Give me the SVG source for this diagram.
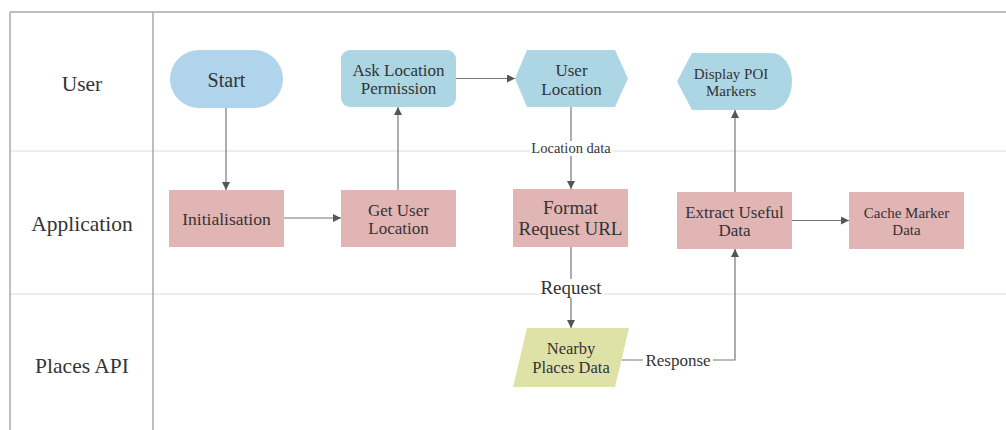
<svg xmlns="http://www.w3.org/2000/svg" width="1006" height="430" viewBox="0 0 1006 430">
  <defs>
    <marker id="arrow" viewBox="0 0 10 10" refX="10" refY="5" markerWidth="8" markerHeight="8" markerUnits="userSpaceOnUse" orient="auto">
      <path d="M0,0 L10,5 L0,10 Z" fill="#555"/>
    </marker>
  </defs>
  <style>
    .t { fill: #333; text-anchor: middle; }
    .lane { font-size: 21.5px; }
    .frame { stroke: #a8a8a8; stroke-width: 1.5; fill: none; }
    .sep { stroke: #dcdcdc; stroke-width: 1; fill: none; }
    .user { fill: #acd6e4; }
    .start { fill: #afd4eb; }
    .app { fill: #e2b5b5; }
    .api { fill: #dfe2a6; }
    .conn { stroke: #777; stroke-width: 1.2; fill: none; }
    .lbl-bg { fill: #fff; }
  </style>

  <rect x="0" y="0" width="1006" height="430" fill="#fff"/>

  <!-- swimlane frame -->
  <g id="lanes">
    <line class="sep" x1="10" y1="151" x2="1006" y2="151"/>
    <line class="sep" x1="10" y1="294" x2="1006" y2="294"/>
    <line class="frame" x1="10" y1="12" x2="1006" y2="12"/>
    <line class="frame" x1="10" y1="12" x2="10" y2="430"/>
    <line class="frame" x1="153" y1="12" x2="153" y2="430"/>
    <text class="t lane" font-family="Liberation Serif" x="82" y="90.5">User</text>
    <text class="t lane" font-family="Liberation Serif" x="82" y="231">Application</text>
    <text class="t lane" font-family="Liberation Serif" x="82" y="372.5">Places API</text>
  </g>

  <!-- connectors -->
  <g id="connectors">
    <line class="conn" x1="226" y1="108" x2="226" y2="190" marker-end="url(#arrow)"/>
    <line class="conn" x1="284" y1="218" x2="341" y2="218" marker-end="url(#arrow)"/>
    <line class="conn" x1="398" y1="190" x2="398" y2="107" marker-end="url(#arrow)"/>
    <line class="conn" x1="456" y1="78.5" x2="515" y2="78.5" marker-end="url(#arrow)"/>
    <line class="conn" x1="571" y1="107" x2="571" y2="189" marker-end="url(#arrow)"/>
    <line class="conn" x1="571" y1="247" x2="571" y2="328" marker-end="url(#arrow)"/>
    <polyline class="conn" points="621.5,360 735,360 735,249" marker-end="url(#arrow)"/>
    <line class="conn" x1="735" y1="192" x2="735" y2="110" marker-end="url(#arrow)"/>
    <line class="conn" x1="792" y1="220.5" x2="849" y2="220.5" marker-end="url(#arrow)"/>

    <rect class="lbl-bg" x="530" y="141" width="83" height="15"/>
    <text class="t" font-family="Liberation Serif" x="571" y="153" font-size="14.5">Location data</text>
    <rect class="lbl-bg" x="539" y="279" width="65" height="19"/>
    <text class="t" font-family="Liberation Serif" x="571" y="294" font-size="19">Request</text>
    <rect class="lbl-bg" x="643" y="350" width="70" height="19"/>
    <text class="t" font-family="Liberation Serif" x="678" y="366" font-size="17">Response</text>
  </g>

  <!-- User lane -->
  <g id="start">
    <rect class="start" x="170" y="50" width="113" height="58" rx="29" ry="29"/>
    <text class="t" font-family="Liberation Serif" x="226.5" y="87.3" font-size="20">Start</text>
  </g>
  <g id="ask-permission">
    <rect class="user" x="341" y="50" width="115" height="57" rx="9" ry="9"/>
    <text class="t" font-family="Liberation Serif" x="398.5" y="76" font-size="17">Ask Location</text>
    <text class="t" font-family="Liberation Serif" x="398.5" y="94.3" font-size="17">Permission</text>
  </g>
  <g id="user-location">
    <polygon class="user" points="515,78.5 527,50 615,50 628,78.5 615,107 527,107"/>
    <text class="t" font-family="Liberation Serif" x="571.5" y="76" font-size="17">User</text>
    <text class="t" font-family="Liberation Serif" x="571.5" y="95" font-size="17">Location</text>
  </g>
  <g id="display-poi">
    <path class="user" d="M677,81.5 L692,53 L772,53 A20,28.5 0 0 1 772,110 L692,110 Z"/>
    <text class="t" font-family="Liberation Serif" x="731" y="79" font-size="15">Display POI</text>
    <text class="t" font-family="Liberation Serif" x="731" y="96.3" font-size="15">Markers</text>
  </g>

  <!-- Application lane -->
  <g id="initialisation">
    <rect class="app" x="169" y="190" width="115" height="57"/>
    <text class="t" font-family="Liberation Serif" x="226.5" y="225.3" font-size="17.5">Initialisation</text>
  </g>
  <g id="get-user-location">
    <rect class="app" x="341" y="190" width="115" height="57"/>
    <text class="t" font-family="Liberation Serif" x="398.5" y="215.7" font-size="17">Get User</text>
    <text class="t" font-family="Liberation Serif" x="398.5" y="234" font-size="17">Location</text>
  </g>
  <g id="format-request">
    <rect class="app" x="513" y="189" width="115" height="58"/>
    <text class="t" font-family="Liberation Serif" x="570.5" y="214" font-size="19">Format</text>
    <text class="t" font-family="Liberation Serif" x="570.5" y="235" font-size="19">Request URL</text>
  </g>
  <g id="extract-data">
    <rect class="app" x="677" y="192" width="115" height="57"/>
    <text class="t" font-family="Liberation Serif" x="734.5" y="217.7" font-size="17">Extract Useful</text>
    <text class="t" font-family="Liberation Serif" x="734.5" y="236" font-size="17">Data</text>
  </g>
  <g id="cache-markers">
    <rect class="app" x="849" y="192" width="115" height="57"/>
    <text class="t" font-family="Liberation Serif" x="906.5" y="217.7" font-size="15">Cache Marker</text>
    <text class="t" font-family="Liberation Serif" x="906.5" y="235" font-size="15">Data</text>
  </g>

  <!-- Places API lane -->
  <g id="nearby-places">
    <polygon class="api" points="527,328 629,328 615,387 513,387"/>
    <text class="t" font-family="Liberation Serif" x="571" y="354.3" font-size="16.5">Nearby</text>
    <text class="t" font-family="Liberation Serif" x="571" y="373.3" font-size="16.5">Places Data</text>
  </g>
</svg>
